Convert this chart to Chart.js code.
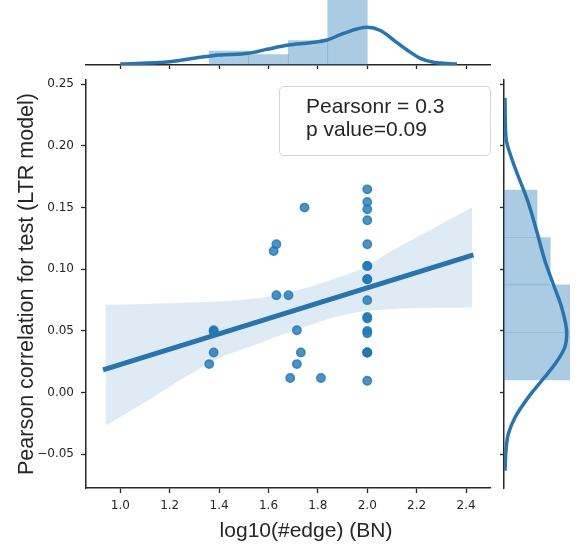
<!DOCTYPE html>
<html>
<head>
<meta charset="utf-8">
<script src="https://cdn.jsdelivr.net/npm/chart.js@4.4.0/dist/chart.umd.min.js"></script>
<style>
  body { margin: 0; background: #fff; }
  #wrap { position: relative; width: 579px; height: 558px; }
  canvas { position: absolute; left: 0; top: 0; }
  .txt {
    position: absolute;
    font-family: "Liberation Sans", Arial, sans-serif;
    font-size: 21px;
    color: #262626;
    white-space: nowrap;
  }
  #statBox {
    left: 279px; top: 86px; width: 210px; height: 68px;
    border: 1.5px solid #d4d4d4; border-radius: 5px;
    background: rgba(255, 255, 255, 0.8);
  }
  #statText { left: 306px; top: 94px; line-height: 23px; }
  #xTitle { left: 306px; top: 518px; transform: translateX(-50%); }
</style>
</head>
<body>
<div id="wrap">
  <canvas id="mainChart" width="579" height="558"></canvas>
  <canvas id="topChart" width="579" height="558"></canvas>
  <canvas id="rightChart" width="579" height="558"></canvas>
  <div class="txt" id="statBox"></div>
  <div class="txt" id="statText">Pearsonr = 0.3<br>p value=0.09</div>
  <div class="txt" id="xTitle">log10(#edge) (BN)</div>
</div>
<script>
// scatter points: log10(#edge) vs pearson correlation
const edgeLog = [
  1.36, 1.378, 1.378, 1.378, 1.621, 1.632, 1.632, 1.681, 1.688, 1.715,
  1.715, 1.731, 1.746, 1.8125,
  2.0, 2.0, 2.0, 2.0, 2.0, 2.0, 2.0, 2.0, 2.0, 2.0, 2.0, 2.0, 2.0, 2.0,
  2.0, 2.0, 2.0, 2.0,
];
const pearson = [
  0.023, 0.0505, 0.0495, 0.0324, 0.1148, 0.1203, 0.0789, 0.0789, 0.0117, 0.0505,
  0.023, 0.0324, 0.15, 0.0117,
  0.1648, 0.1545, 0.1486, 0.1397, 0.1203, 0.1027, 0.1027, 0.0919, 0.0919, 0.0749,
  0.0613, 0.06, 0.05, 0.048, 0.0324, 0.0324, 0.0324, 0.0095,
];

// regression fit line and confidence band
const fitX = [0.93, 2.43];
const fitY = [0.0184, 0.1116];
const bandX = [0.94, 1.1, 1.283, 1.425, 1.55, 1.7, 1.89, 2.0, 2.09, 2.2, 2.424];
const bandUpper = [0.0711, 0.0718, 0.0729, 0.0743, 0.0765, 0.082, 0.0938, 0.1027, 0.114, 0.126, 0.15];
const bandLower = [-0.027, -0.008, 0.0149, 0.03, 0.039, 0.05, 0.0622, 0.066, 0.0676, 0.0685, 0.0689];

// top marginal: histogram + kde of log10(#edge)
const topBinCenters = [1.44, 1.6, 1.76, 1.92];
const topCounts = [4, 3, 7, 20];
const kdeTopX = [1.0, 1.2, 1.324, 1.398, 1.519, 1.594, 1.681, 1.769, 1.837, 1.904, 2.0, 2.053, 2.107, 2.161, 2.215, 2.268, 2.363];
const kdeTopY = [0.29, 0.94, 2.2, 2.86, 3.34, 4.49, 5.71, 6.37, 7.14, 9.06, 10.77, 9.86, 7.14, 4.29, 1.91, 0.77, 0.29];

// right marginal: histogram + kde of pearson correlation
const rightBinCenters = [0.0294, 0.068, 0.1065, 0.145];
const rightCounts = [11, 12, 7, 5];
const kdeRightY = [-0.0634, -0.0472, -0.0337, -0.0203, -0.004, 0.0095, 0.023, 0.0365, 0.048, 0.0689, 0.0878, 0.1067, 0.131, 0.1553, 0.1878, 0.2067, 0.239];
const kdeRightX = [0.15, 0.3, 0.65, 1.67, 3.68, 5.71, 7.73, 9.2, 9.5, 8.74, 7.47, 6.21, 4.95, 3.6, 1.3, 0.3, 0.15];

// tick labels
const xTicks = [1.0, 1.2, 1.4, 1.6, 1.8, 2.0, 2.2, 2.4];
const yTicks = [-0.05, 0.0, 0.05, 0.1, 0.15, 0.2, 0.25];

const xMin = 0.861, xMax = 2.497;
const yMin = -0.0775, yMax = 0.2535;

const blue = "#2a74ad";
const axisColor = "#262626";
const histColor = "rgba(31,119,180,0.38)";
const tickFont = { family: "DejaVu Sans", size: 12 };

const fmtY = (v) => v.toFixed(2).replace("-", "\u2212");

function setTicks(values) {
  return (scale) => {
    scale.ticks = values.map((v) => ({ value: v }));
  };
}

const axisGrid = (len) => ({
  display: true,
  offset: false,
  drawOnChartArea: false,
  drawTicks: true,
  tickLength: len,
  tickWidth: 1.3,
  tickColor: axisColor,
});

new Chart(document.getElementById("mainChart"), {
  type: "scatter",
  data: {
    datasets: [
      {
        type: "line",
        label: "ci upper",
        data: bandX.map((x, i) => ({ x: x, y: bandUpper[i] })),
        borderWidth: 0,
        pointRadius: 0,
        fill: false,
        cubicInterpolationMode: "monotone",
        order: 3,
      },
      {
        type: "line",
        label: "ci lower",
        data: bandX.map((x, i) => ({ x: x, y: bandLower[i] })),
        borderWidth: 0,
        pointRadius: 0,
        fill: "-1",
        backgroundColor: "rgba(31,119,180,0.15)",
        cubicInterpolationMode: "monotone",
        order: 3,
      },
      {
        type: "line",
        label: "fit",
        data: fitX.map((x, i) => ({ x: x, y: fitY[i] })),
        borderColor: blue,
        borderWidth: 5,
        pointRadius: 0,
        order: 1,
      },
      {
        label: "points",
        data: edgeLog.map((x, i) => ({ x: x, y: pearson[i] })),
        backgroundColor: "rgba(31,119,180,0.8)",
        borderColor: "rgba(31,119,180,0.8)",
        borderWidth: 1.5,
        pointRadius: 4.2,
        order: 2,
      },
    ],
  },
  options: {
    responsive: false,
    animation: false,
    layout: { padding: { left: 0, right: 89, top: 80, bottom: 0 } },
    plugins: { legend: { display: false }, tooltip: { enabled: false } },
    scales: {
      x: {
        type: "linear",
        min: xMin,
        max: xMax,
        afterBuildTicks: setTicks(xTicks),
        afterFit: (s) => { s.height = 70; },
        grid: axisGrid(5),
        border: { display: true, color: axisColor, width: 1.5 },
        ticks: {
          font: tickFont,
          color: axisColor,
          padding: 6,
          maxRotation: 0,
          autoSkip: false,
          callback: (v) => v.toFixed(1),
        },
      },
      y: {
        type: "linear",
        min: yMin,
        max: yMax,
        afterBuildTicks: setTicks(yTicks),
        afterFit: (s) => { s.width = 86; },
        grid: axisGrid(5),
        border: { display: true, color: axisColor, width: 1.5 },
        ticks: {
          font: tickFont,
          color: axisColor,
          padding: 7,
          autoSkip: false,
          callback: (v) => fmtY(v),
        },
        title: {
          display: true,
          text: "Pearson correlation for test (LTR model)",
          font: { family: "Liberation Sans", size: 21.5 },
          color: axisColor,
          padding: { top: 14, bottom: 0 },
        },
      },
    },
  },
});

new Chart(document.getElementById("topChart"), {
  type: "bar",
  data: {
    datasets: [
      {
        type: "line",
        data: kdeTopX.map((x, i) => ({ x: x, y: kdeTopY[i] })),
        borderColor: blue,
        borderWidth: 3.5,
        pointRadius: 0,
        cubicInterpolationMode: "monotone",
        order: 1,
      },
      {
        type: "bar",
        data: topBinCenters.map((x, i) => ({ x: x, y: topCounts[i] })),
        backgroundColor: histColor,
        barPercentage: 1,
        categoryPercentage: 1,
        order: 2,
      },
    ],
  },
  options: {
    responsive: false,
    animation: false,
    layout: { padding: { left: 86, right: 89, top: 0, bottom: 0 } },
    plugins: { legend: { display: false }, tooltip: { enabled: false } },
    scales: {
      x: {
        type: "linear",
        offset: false,
        min: xMin,
        max: xMax,
        afterBuildTicks: setTicks(xTicks),
        afterFit: (s) => { s.height = 493; },
        grid: axisGrid(4),
        border: { display: true, color: axisColor, width: 1.5 },
        ticks: { display: false },
      },
      y: { display: false, min: 0, max: 18.6 },
    },
  },
});

new Chart(document.getElementById("rightChart"), {
  type: "bar",
  data: {
    datasets: [
      {
        type: "line",
        data: kdeRightY.map((y, i) => ({ x: kdeRightX[i], y: y })),
        borderColor: blue,
        borderWidth: 3.5,
        pointRadius: 0,
        cubicInterpolationMode: "monotone",
        order: 1,
      },
      {
        type: "bar",
        data: rightBinCenters.map((y, i) => ({ x: rightCounts[i], y: y })),
        backgroundColor: histColor,
        barPercentage: 1,
        categoryPercentage: 1,
        order: 2,
      },
    ],
  },
  options: {
    indexAxis: "y",
    responsive: false,
    animation: false,
    layout: { padding: { left: 0, right: 9, top: 80, bottom: 70 } },
    plugins: { legend: { display: false }, tooltip: { enabled: false } },
    scales: {
      y: {
        type: "linear",
        position: "left",
        offset: false,
        min: yMin,
        max: yMax,
        afterBuildTicks: setTicks(yTicks),
        afterFit: (s) => { s.width = 504; },
        grid: axisGrid(4),
        border: { display: true, color: axisColor, width: 1.5 },
        ticks: { display: false },
      },
      x: { display: false, min: 0, max: 10 },
    },
  },
});
</script>
</body>
</html>
